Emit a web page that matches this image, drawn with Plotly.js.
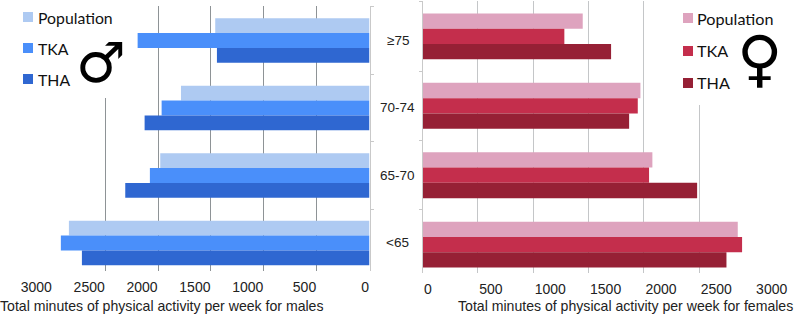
<!DOCTYPE html>
<html>
<head>
<meta charset="utf-8">
<script src="https://cdn.plot.ly/plotly-3.0.1.min.js"></script>
<style>html,body{margin:0;padding:0;background:#fff}#c{width:796px;height:315px}</style>
</head>
<body>
<div id="c"></div>
<script>
const categories = ["≥75", "70-74", "65-70", "<65"];
const seriesNames = ["Population", "TKA", "THA"];
const malePopulation = [1459, 1783, 1979, 2843];
const maleTKA = [2193, 1966, 2077, 2919];
const maleTHA = [1443, 2127, 2310, 2720];
const femalePopulation = [1447, 1968, 2076, 2847];
const femaleTKA = [1281, 1944, 2046, 2886];
const femaleTHA = [1703, 1866, 2480, 2745];
const maleColors = ["#aecaf2", "#4a8ffa", "#2f67d1"];
const femaleColors = ["#dea3be", "#c42e4c", "#962035"];
const tickValues = [0, 500, 1000, 1500, 2000, 2500, 3000];
const W = 796, H = 315;
const px = v => v / W, py = v => 1 - v / H;
const SANS = "Liberation Sans, Arial, sans-serif";
const LEG = "Lato, Noto Sans, sans-serif";

const traces = [];
[malePopulation, maleTKA, maleTHA].forEach((vals, i) => traces.push({
  type: "bar", orientation: "h", name: seriesNames[i], y: categories, x: vals,
  marker: {color: maleColors[i]}, xaxis: "x", yaxis: "y", showlegend: false
}));
[femalePopulation, femaleTKA, femaleTHA].forEach((vals, i) => traces.push({
  type: "bar", orientation: "h", name: seriesNames[i], y: categories, x: vals,
  marker: {color: femaleColors[i]}, xaxis: "x2", yaxis: "y2", showlegend: false
}));

const baseX = {
  type: "linear", tickmode: "array", tickvals: tickValues, showline: false, zeroline: false, tickangle: 0,
  ticks: "", showgrid: true, tickfont: {family: SANS, size: 14, color: "#222"}, ticklabelstandoff: 6
};
const baseY = {
  type: "category", categoryorder: "array", categoryarray: categories, showgrid: false,
  zeroline: false, showline: true, linecolor: "#c9c9c9", linewidth: 1, ticks: "outside",
  tickson: "boundaries", ticklen: 3, tickcolor: "#c9c9c9", showticklabels: false
};

const shapes = [
  {type: "rect", xref: "paper", yref: "paper", x0: px(40), x1: px(122), y0: py(98), y1: py(0), fillcolor: "#fff", line: {width: 0}, layer: "above"},
  {type: "rect", xref: "paper", yref: "paper", x0: px(690), x1: px(770), y0: py(105), y1: py(0), fillcolor: "#fff", line: {width: 0}, layer: "above"}
];
const annotations = [];
const legendRows = [
  {x: 23, tx: 36, ys: [17, 48, 79], colors: maleColors, size: 15.8},
  {x: 683, tx: 694.5, ys: [18, 51, 83], colors: femaleColors, size: 16.2}
];
legendRows.forEach(r => seriesNames.forEach((n, i) => {
  shapes.push({type: "rect", xref: "paper", yref: "paper", x0: px(r.x), x1: px(r.x + 10),
    y0: py(r.ys[i] + 5), y1: py(r.ys[i] - 5), fillcolor: r.colors[i], line: {width: 0}, layer: "above"});
  annotations.push({xref: "paper", yref: "paper", x: px(r.tx), y: py(r.ys[i]), xanchor: "left", yanchor: "middle",
    text: n, showarrow: false, font: {family: LEG, size: r.size, color: "#111"}});
}));
categories.forEach(c => annotations.push({xref: "paper", yref: "y", x: px(397.5), y: c, xanchor: "center", yanchor: "middle",
  text: c.replace("<", "&lt;"), showarrow: false, font: {family: SANS, size: 13.5, color: "#222"}}));
annotations.push({xref: "paper", yref: "paper", x: px(100.5), y: py(63), xanchor: "center", yanchor: "middle", text: "♂",
  showarrow: false, font: {family: "DejaVu Sans", size: 56, color: "#000"}});
annotations.push({xref: "paper", yref: "paper", x: px(759.5), y: py(58), xanchor: "center", yanchor: "middle", text: "♀",
  showarrow: false, font: {family: "DejaVu Sans", size: 62, color: "#000"}});
annotations.push({xref: "paper", yref: "paper", x: px(-2), y: py(306), xanchor: "left", yanchor: "middle",
  text: "Total minutes of physical activity per week for males", showarrow: false, font: {family: SANS, size: 14.1, color: "#222"}});
annotations.push({xref: "paper", yref: "paper", x: px(456), y: py(306), xanchor: "left", yanchor: "middle",
  text: "Total minutes of physical activity per week for females", showarrow: false, font: {family: SANS, size: 14.1, color: "#222"}});

const layout = {
  width: W, height: H, margin: {l: 0, r: 0, t: 0, b: 0}, paper_bgcolor: "#fff", plot_bgcolor: "#fff",
  barmode: "group", bargap: 0.34, bargroupgap: 0, showlegend: false,
  xaxis: Object.assign({}, baseX, {domain: [px(52.3), px(369.5)], range: [3000, 0], anchor: "y", gridcolor: "#8e9396",
    ticklabelshift: 16, ticktext: tickValues.map(v => String(v).padStart(4, "\u2007"))}),
  yaxis: Object.assign({}, baseY, {domain: [py(271), py(6)], range: [3.415, -0.511], side: "right", anchor: "x"}),
  xaxis2: Object.assign({}, baseX, {domain: [px(422.5), px(754.7)], range: [0, 3000], anchor: "y2", gridcolor: "#c4c6c8",
    ticklabelshift: 17, ticktext: tickValues.map(v => String(v).padEnd(4, "\u2007"))}),
  yaxis2: Object.assign({}, baseY, {domain: [py(273), py(1)], range: [3.408, -0.509], side: "left", anchor: "x2"}),
  shapes, annotations
};
Plotly.newPlot("c", traces, layout, {staticPlot: true, displayModeBar: false});
</script>
</body>
</html>
